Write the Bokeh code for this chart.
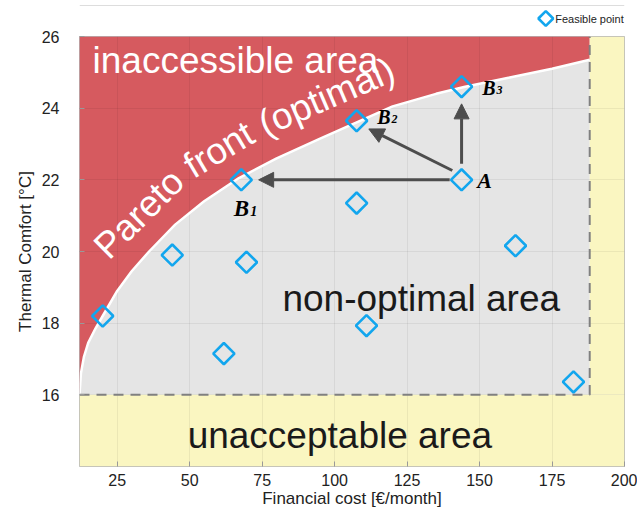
import math
from bokeh.plotting import figure
from bokeh.models import Label, Arrow, NormalHead, Span
from bokeh.layouts import column
from bokeh.core.properties import value
from bokeh.embed import file_html
from bokeh.resources import INLINE

# ---- data ----
cost = [20.0, 44.0, 61.8, 67.8, 69.6, 107.6, 107.6, 111.0, 143.8, 143.8, 162.4, 182.4]
comfort = [18.2, 19.9, 17.15, 22.0, 19.7, 23.65, 21.35, 17.93, 24.6, 22.0, 20.16, 16.36]

front_cost = [12, 12.5, 13.5, 15, 17.5, 20, 25, 30, 36, 45, 55, 67, 80, 95, 108, 120, 135, 145, 160, 175, 188]
front_comfort = [16.0, 16.6, 17.05, 17.45, 17.85, 18.2, 18.9, 19.45, 20.0, 20.75, 21.4, 22.05, 22.6,
                 23.15, 23.62, 24.05, 24.4, 24.6, 24.85, 25.1, 25.35]

cost_axis = [12, 200]
comfort_axis = [14, 26]
max_cost = 188          # acceptable cost limit
min_comfort = 16        # acceptable comfort limit

x_ticks = [25, 50, 75, 100, 125, 150, 175, 200]
y_ticks = [16, 18, 20, 22, 24, 26]

# arrows from A to B1, B2, B3
arrow_x0 = [139.7, 140.6, 143.8]
arrow_y0 = [22.0, 22.26, 22.45]
arrow_x1 = [73.8, 111.8, 143.8]
arrow_y1 = [22.0, 23.42, 24.12]

legend_label = "Feasible point"
front_words = ["Pareto", "front", "(optimal)"]

RED = "#d65a5f"
GRAY = "#e5e5e5"
YELLOW = "#faf6c1"
BLUE = "#12a6ee"
DARK = "#4d4d4d"
SANS = "Liberation Sans"
SERIF = "Liberation Serif"

FW, FH = 545, 430          # frame size in px

# ---------------- legend strip (above the axes) ----------------
W, H_LEG = 637, 28
leg = figure(width=W, height=H_LEG, x_range=(0, W), y_range=(0, H_LEG),
             output_backend="svg", toolbar_location=None,
             min_border=0, outline_line_color=None)
leg.axis.visible = False
leg.grid.visible = False
leg.add_layout(Span(location=H_LEG - 5, dimension="width", line_color="#dddddd", line_width=1))
leg.scatter(x=[545], y=[10], marker="square", size=10.5, angle=45, angle_units="deg",
            fill_color=None, line_color=BLUE, line_width=2.6)
leg.text(x=[556], y=[10], text=[legend_label], text_font=value(SANS), text_font_size="11px",
         text_color="#222222", text_baseline="middle", text_align="left")

# ---------------- main plot ----------------
p = figure(frame_width=FW, frame_height=FH, x_range=(cost_axis[0], cost_axis[1]),
           y_range=(comfort_axis[0], comfort_axis[1]),
           output_backend="svg", toolbar_location=None,
           min_border_left=79, min_border_top=8, min_border_right=13, min_border_bottom=42)

# areas
p.varea(x=front_cost, y1=min_comfort, y2=front_comfort, fill_color=GRAY, level="image")
p.varea(x=front_cost, y1=front_comfort, y2=comfort_axis[1], fill_color=RED, level="image")
p.quad(left=[cost_axis[0]], right=[cost_axis[1]], bottom=[comfort_axis[0]], top=[min_comfort],
       fill_color=YELLOW, line_color=None, level="image")
p.quad(left=[max_cost], right=[cost_axis[1]], bottom=[min_comfort], top=[comfort_axis[1]],
       fill_color=YELLOW, line_color=None, level="image")

# pareto front curve and limits
p.line(front_cost, front_comfort, line_color="white", line_width=2.5)
p.line([cost_axis[0], max_cost, max_cost], [min_comfort, min_comfort, comfort_axis[1]],
       line_color="#808080", line_width=2, line_dash="10 7")

# arrows
for x0, y0, x1, y1 in zip(arrow_x0, arrow_y0, arrow_x1, arrow_y1):
    p.add_layout(Arrow(x_start=x0, y_start=y0, x_end=x1, y_end=y1,
                       line_color=DARK, line_width=3,
                       end=NormalHead(size=15, fill_color=DARK, line_color=DARK, line_width=1)))

# feasible points
p.scatter(cost, comfort, marker="square", size=15, angle=45, angle_units="deg",
          fill_color=None, line_color=BLUE, line_width=2.6)

# area texts
def area_label(txt, x, y, color, size, angle=0.0):
    p.add_layout(Label(x=x, y=y, text=txt, text_color=color, text_font=SANS,
                       text_font_size=f"{size}px", text_baseline="alphabetic", text_align="left",
                       angle=angle, angle_units="rad"))

area_label("inaccessible area", 16.5, 25.34, "white", 37)
area_label("non-optimal area", 82.0, 18.70, "#1a1a1a", 37)
area_label("unacceptable area", 49.3, 14.87, "#1a1a1a", 37)

# ---- "Pareto front (optimal)" written along the front, offset above it ----
def to_px(x, y):
    return ((x - cost_axis[0]) * FW / (cost_axis[1] - cost_axis[0]),
            (y - comfort_axis[0]) * FH / (comfort_axis[1] - comfort_axis[0]))

def to_data(px, py):
    return (cost_axis[0] + px * (cost_axis[1] - cost_axis[0]) / FW,
            comfort_axis[0] + py * (comfort_axis[1] - comfort_axis[0]) / FH)

CHAR_W = {"P": .667, "a": .556, "r": .333, "e": .556, "t": .278, "o": .556, "f": .278,
          "n": .556, "(": .333, "p": .556, "i": .222, "m": .833, "l": .222, ")": .333, " ": .278}
PF_SIZE = 37
OFFSET = 29.0        # distance of the text baseline above the front, px
START_X = 26.0       # frame px where the text begins

pts = [to_px(x, y) for x, y in zip(front_cost, front_comfort)]
off = []
for i in range(len(pts)):
    a = pts[max(i - 1, 0)]
    b = pts[min(i + 1, len(pts) - 1)]
    tx, ty = b[0] - a[0], b[1] - a[1]
    n = math.hypot(tx, ty)
    tx, ty = tx / n, ty / n
    off.append((pts[i][0] - OFFSET * ty, pts[i][1] + OFFSET * tx))
cum = [0.0]
for i in range(1, len(off)):
    cum.append(cum[-1] + math.hypot(off[i][0] - off[i - 1][0], off[i][1] - off[i - 1][1]))

def point_at(s):
    for i in range(1, len(cum)):
        if s <= cum[i] or i == len(cum) - 1:
            t = (s - cum[i - 1]) / (cum[i] - cum[i - 1])
            return (off[i - 1][0] + t * (off[i][0] - off[i - 1][0]),
                    off[i - 1][1] + t * (off[i][1] - off[i - 1][1]))

s = 0.0
while point_at(s)[0] < START_X:
    s += 0.25
for word in front_words:
    w = sum(CHAR_W[c] for c in word) * PF_SIZE
    q0, q1 = point_at(s), point_at(s + w)
    ang = math.atan2(q1[1] - q0[1], q1[0] - q0[0])
    corr = 0.21 * PF_SIZE
    ax, ay = q0[0] - corr * math.sin(ang), q0[1] + corr * math.cos(ang)
    dx, dy = to_data(ax, ay)
    area_label(word, dx, dy, "white", PF_SIZE, ang)
    s += w + CHAR_W[" "] * PF_SIZE

# point names
def point_label(main, sub, x, y, size):
    p.add_layout(Label(x=x, y=y, text=main, text_color="black", text_font=SERIF,
                       text_font_style="bold italic", text_font_size=f"{size}px",
                       text_baseline="alphabetic"))
    if sub:
        p.add_layout(Label(x=x, y=y, x_offset=size * 0.72, y_offset=-2, text=sub,
                           text_color="black", text_font=SERIF, text_font_style="bold italic",
                           text_font_size=f"{int(size * 0.62)}px", text_baseline="alphabetic"))

point_label("B", "1", 65.2, 21.2, 23)
point_label("B", "2", 114.7, 23.76, 20)
point_label("B", "3", 150.9, 24.55, 20)
point_label("A", "", 149.2, 21.97, 22)

# axes
p.xaxis.ticker = x_ticks
p.yaxis.ticker = y_ticks
p.xaxis.axis_label = "Financial cost [€/month]"
p.yaxis.axis_label = "Thermal Comfort [°C]"
for ax in (p.xaxis, p.yaxis):
    ax.axis_label_text_font = SANS
    ax.axis_label_text_font_style = "normal"
    ax.axis_label_text_font_size = "17px"
    ax.axis_label_text_color = "#222222"
    ax.major_label_text_font = SANS
    ax.major_label_text_font_size = "16px"
    ax.major_label_text_color = "#222222"
    ax.axis_line_color = None
    ax.major_tick_in = 5
    ax.major_tick_out = 0
    ax.major_tick_line_color = "#999999"
    ax.minor_tick_line_color = None
p.xaxis.major_label_standoff = 7
p.xaxis.axis_label_standoff = 0
p.yaxis.major_label_standoff = 20
p.yaxis.axis_label_standoff = 4

p.grid.grid_line_color = "black"
p.grid.grid_line_alpha = 0.06
p.outline_line_color = "#b5b5b5"
p.background_fill_color = "white"

layout = column(leg, p, spacing=0)
open("out.html", "w").write(file_html(layout, INLINE))
